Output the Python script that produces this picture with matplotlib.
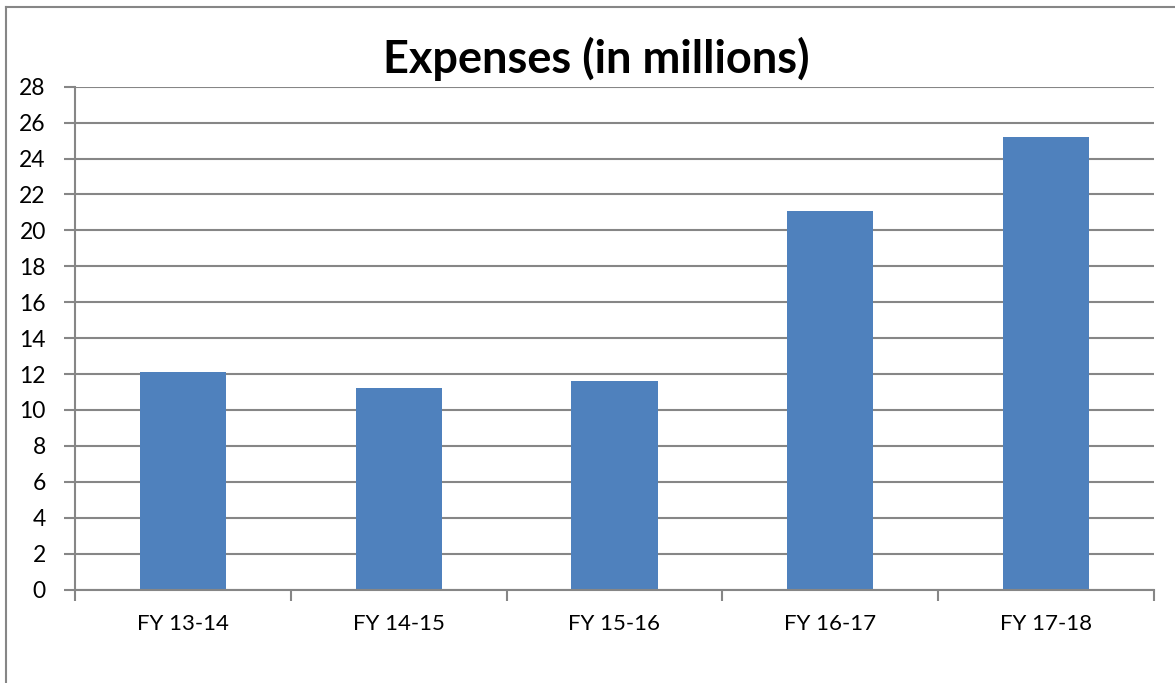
import matplotlib
matplotlib.use("Agg")
import matplotlib.pyplot as plt
from matplotlib.lines import Line2D
import numpy as np

categories = ["FY 13-14", "FY 14-15", "FY 15-16", "FY 16-17", "FY 17-18"]
values = [12.1, 11.2, 11.6, 21.1, 25.2]
yticks = list(range(0, 29, 2))

plt.rcParams['font.family'] = ['Lato', 'DejaVu Sans']

fig = plt.figure(figsize=(11.75, 6.83), dpi=100)
ax = fig.add_axes([75/1175, 1-589.5/683, (1154-75)/1175, (589.5-86.7)/683])

grey = "#868686"
x = np.arange(len(categories))
ax.bar(x, values, width=0.4, color="#4F81BD", zorder=3)

ax.set_xlim(-0.5, len(categories)-0.5)
ax.set_ylim(0, 28)
ax.set_yticks(yticks)
ax.set_yticklabels([str(v) for v in yticks], fontsize=16.5)
ax.yaxis.grid(True, color=grey, linewidth=1.5, zorder=0)

ax.set_xticks(x)
ax.set_xticklabels(categories, fontsize=16)
ax.tick_params(axis='x', which='major', length=0, pad=18)
ax.set_xticks(np.arange(-0.5, len(categories), 1.0), minor=True)
ax.tick_params(axis='x', which='minor', length=8, width=1.5, color=grey, direction='out')
ax.tick_params(axis='y', length=8, width=1.5, color=grey, pad=13)

for s in ['top', 'right']:
    ax.spines[s].set_visible(False)
for s in ['left', 'bottom']:
    ax.spines[s].set_color(grey)
    ax.spines[s].set_linewidth(1.5)
    ax.spines[s].set_zorder(4)

fig.text(596/1175, 1-59/683, "Expenses (in millions)", ha='center', va='center',
         fontsize=32.5, fontweight='bold')

# outer chart frame (top and left edges visible)
fig.add_artist(Line2D([5.5/1175, 1.0], [1-6.5/683, 1-6.5/683], color=grey, linewidth=1.5, transform=fig.transFigure))
fig.add_artist(Line2D([5.5/1175, 5.5/1175], [0.0, 1-6.5/683], color=grey, linewidth=1.5, transform=fig.transFigure))

fig.savefig("out.png", dpi=100)
